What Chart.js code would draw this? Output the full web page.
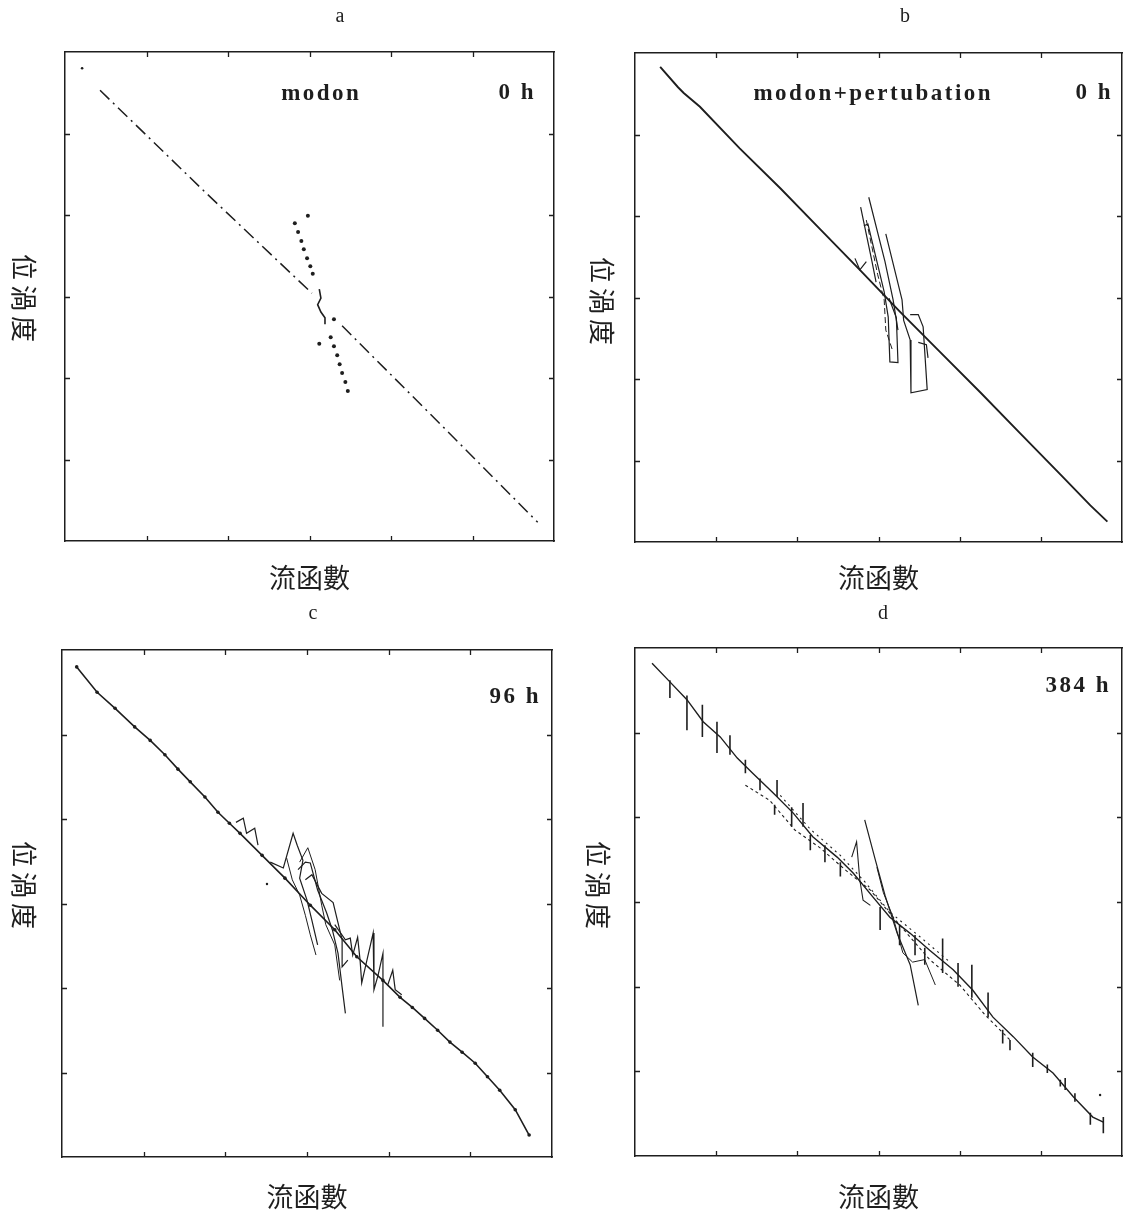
<!DOCTYPE html>
<html>
<head>
<meta charset="utf-8">
<script src="https://cdn.jsdelivr.net/npm/chart.js@4.4.1/dist/chart.umd.min.js"></script>
<style>
html,body{margin:0;padding:0;background:#fff;}
#wrap{position:relative;width:1137px;height:1218px;background:#fff;overflow:hidden;}
.panel{position:absolute;}
.panel canvas{display:block;}
</style>
</head>
<body>
<div id="wrap">
  <div class="panel" style="left:0;top:0;width:568px;height:600px"><canvas id="ca"></canvas></div>
  <div class="panel" style="left:568px;top:0;width:569px;height:600px"><canvas id="cb"></canvas></div>
  <div class="panel" style="left:0;top:600px;width:568px;height:618px"><canvas id="cc"></canvas></div>
  <div class="panel" style="left:568px;top:600px;width:569px;height:618px"><canvas id="cd"></canvas></div>
</div>
<script>
// ---------- axis / text content ----------
const AXIS_MIN = -3, AXIS_MAX = 3;
const tickValues = [-2, -1, 0, 1, 2];
const xAxisTitle = '流函數';
const yAxisTitle = '位渦度';
const panelLetters = ['a', 'b', 'c', 'd'];
const notesA = ['modon', '0 h'];
const notesB = ['modon+pertubation', '0 h'];
const notesC = ['96 h'];
const notesD = ['384 h'];

// ---------- panel a : modon, 0 h ----------  [stream function, potential vorticity]
const aModon = [[-2.57,2.53],[-1.28,1.28],[0.03,0.04],null,[0.40,-0.36],[1.60,-1.56],[2.80,-2.77]];
const aWiggle = [[0.12,0.09],[0.14,-0.02],[0.10,-0.10],[0.14,-0.19],[0.19,-0.26],[0.19,-0.34]];
const aUpperBranch = [[-0.02,0.99],[-0.18,0.90],[-0.14,0.79],[-0.10,0.68],[-0.07,0.58],[-0.03,0.47],[0.01,0.37],[0.04,0.28]];
const aLowerBranch = [[0.30,-0.28],[0.12,-0.58],[0.26,-0.50],[0.30,-0.61],[0.34,-0.72],[0.37,-0.83],[0.40,-0.94],[0.44,-1.05],[0.47,-1.16]];
const aCornerDot = [[-2.79,2.80]];

// ---------- panel b : modon + perturbation, 0 h ----------
const bModon = [[-2.69,2.83],[-2.47,2.58],[-2.40,2.51],[-2.20,2.34],[-1.71,1.83],[-1.21,1.34],[-0.72,0.84],[-0.23,0.34],[0.26,-0.17],[0.76,-0.67],[1.25,-1.16],[1.74,-1.66],[2.24,-2.17],[2.61,-2.55],[2.82,-2.75]];
const bPert1 = [[-0.22,1.11],[-0.08,0.44],[-0.03,0.19]];
const bPert2 = [[-0.12,1.23],[0.08,0.44],[0.18,-0.03],[0.24,-0.40]];
const bPert3 = [[-0.18,0.88],[-0.13,0.90],[0.07,0.07],[0.12,-0.24],[0.14,-0.79],[0.24,-0.80],[0.22,-0.25],[0.13,-0.01]];
const bPert4 = [[0.09,0.78],[0.29,-0.03],[0.31,-0.28],[0.39,-0.52],[0.40,-1.17],[0.60,-1.13],[0.55,-0.36],[0.49,-0.21],[0.39,-0.21]];
const bPert5 = [[0.49,-0.55],[0.59,-0.58],[0.61,-0.74]];
const bPert6 = [[-0.29,0.48],[-0.23,0.34],[-0.15,0.44]];
const bPert7 = [[-0.15,0.95],[-0.01,0.28],[0.07,-0.03],[0.09,-0.40],[0.17,-0.64]];

// ---------- panel c : 96 h ----------
const cMain = [[-2.82,2.80],[-2.57,2.50],[-2.35,2.31],[-2.11,2.09],[-1.92,1.93],[-1.74,1.76],[-1.58,1.59],[-1.43,1.44],[-1.25,1.26],[-1.09,1.08],[-0.95,0.95],[-0.82,0.83],[-0.55,0.57],[-0.27,0.30],[0.04,-0.02],[0.34,-0.31],[0.61,-0.63],[0.93,-0.91],[1.14,-1.11],[1.29,-1.23],[1.44,-1.36],[1.60,-1.50],[1.75,-1.64],[1.90,-1.76],[2.06,-1.89],[2.21,-2.05],[2.36,-2.21],[2.55,-2.44],[2.72,-2.74]];
const cPert1 = [[-0.45,0.49],[-0.29,0.42],[-0.17,0.83],[-0.12,0.69],[-0.05,0.51],[-0.09,0.30],[0.00,0.04],[0.06,-0.20],[0.13,-0.49]];
const cPert2 = [[-0.11,0.40],[-0.02,0.49],[0.04,0.48],[0.13,0.16],[0.24,-0.11],[0.31,-0.31],[0.38,-0.59],[0.43,-0.99],[0.47,-1.30]];
const cPert3 = [[-0.02,0.28],[0.06,0.34],[0.18,0.12],[0.32,0.01],[0.38,-0.23],[0.43,-0.43],[0.43,-0.75],[0.50,-0.67]];
const cPert4 = [[0.34,-0.25],[0.47,-0.43],[0.53,-0.41],[0.56,-0.61],[0.62,-0.40],[0.65,-0.67],[0.67,-0.94],[0.72,-0.73],[0.81,-0.35],[0.82,-1.02],[0.87,-0.85],[0.93,-0.59],[0.93,-1.46]];
const cPert5 = [[0.99,-0.96],[1.05,-0.79],[1.08,-1.02],[1.16,-1.08]];
const cPert6 = [[-0.87,0.96],[-0.78,1.01],[-0.74,0.83],[-0.64,0.89],[-0.60,0.69]];
const cPert7 = [[-0.25,0.54],[-0.18,0.28],[-0.09,0.10],[-0.02,-0.14],[0.04,-0.37],[0.11,-0.61]];
const cPert8 = [[-0.09,0.49],[0.01,0.66],[0.10,0.40],[0.18,-0.02],[0.23,-0.25],[0.34,-0.49],[0.40,-0.91]];
const cStray = [[-0.49,0.23]];

// ---------- panel d : 384 h ----------
const dMain = [[-2.79,2.82],[-2.57,2.60],[-2.36,2.39],[-2.16,2.13],[-1.95,1.95],[-1.74,1.70],[-1.55,1.52],[-1.30,1.29],[-1.05,1.05],[-0.81,0.77],[-0.51,0.53],[-0.31,0.34],[-0.07,0.06],[0.14,-0.18],[0.39,-0.37],[0.63,-0.57],[0.92,-0.80],[1.16,-1.04],[1.41,-1.36],[1.66,-1.59],[1.90,-1.83],[2.15,-2.02],[2.40,-2.30],[2.64,-2.54],[2.77,-2.60]];
const dSpikes = [[-2.57,2.62],[-2.57,2.41],null,[-2.36,2.44],[-2.36,2.03],null,[-2.17,2.33],[-2.17,1.95],null,[-1.99,2.13],[-1.99,1.76],null,[-1.83,1.97],[-1.83,1.74],null,[-1.64,1.68],[-1.64,1.52],null,[-1.46,1.46],[-1.46,1.32],null,[-1.28,1.15],[-1.28,1.03],null,[-1.25,1.44],[-1.25,1.24],null,[-1.07,1.12],[-1.07,0.89],null,[-0.93,1.17],[-0.93,0.89],null,[-0.84,0.79],[-0.84,0.61],null,[-0.66,0.67],[-0.66,0.47],null,[-0.47,0.47],[-0.47,0.30],null,[0.02,-0.06],[0.02,-0.33],null,[0.26,-0.27],[0.26,-0.51],null,[0.45,-0.39],[0.45,-0.63],null,[0.57,-0.54],[0.57,-0.74],null,[0.79,-0.43],[0.79,-0.84],null,[0.98,-0.72],[0.98,-1.00],null,[1.15,-0.74],[1.15,-1.13],null,[1.35,-1.07],[1.35,-1.36],null,[1.53,-1.51],[1.53,-1.67],null,[1.62,-1.63],[1.62,-1.75],null,[1.90,-1.78],[1.90,-1.95],null,[2.08,-1.92],[2.08,-2.02],null,[2.24,-2.10],[2.24,-2.18],null,[2.30,-2.08],[2.30,-2.22],null,[2.42,-2.26],[2.42,-2.36],null,[2.61,-2.49],[2.61,-2.63],null,[2.77,-2.54],[2.77,-2.73]];
const dSteep = [[-0.17,0.97],[-0.04,0.50],[0.08,0.08],[0.23,-0.37],[0.39,-0.74],[0.49,-1.22]];
const dSteep2 = [[-0.33,0.53],[-0.27,0.71],[-0.23,0.26],[-0.19,0.02],[-0.10,-0.04]];
const dTrace = [[-0.02,0.41],[0.06,0.11],[0.18,-0.18],[0.30,-0.60],[0.42,-0.71],[0.57,-0.68],[0.70,-0.98]];
const dDashed = [[-1.64,1.38],[-1.34,1.20],[-1.03,0.85],[-0.72,0.64],[-0.41,0.38],[-0.10,0.14],[0.26,-0.27],[0.63,-0.68],[1.00,-0.98],[1.31,-1.33],[1.62,-1.63]];
const dDashed2 = [[-1.21,1.26],[-0.84,0.86],[-0.47,0.55],[-0.17,0.24],[0.14,-0.12],[0.51,-0.41],[0.88,-0.71]];
const dStray = [[2.73,-2.28]];

// ---------- helpers ----------
const INK = '#1e1e1e';
const SERIF = "'Liberation Serif', 'DejaVu Serif', serif";
const CJK = "'Noto Sans CJK TC', 'Noto Sans CJK SC', sans-serif";

function pts(arr) {
  return arr.map(p => p === null ? {x: null, y: null} : {x: p[0], y: p[1]});
}
function line(data, extra) {
  return Object.assign({
    data: pts(data), showLine: true, borderColor: INK, backgroundColor: INK,
    borderWidth: 1.2, pointRadius: 0, pointHoverRadius: 0, spanGaps: false,
    xAxisID: 'x', yAxisID: 'y'
  }, extra || {});
}
function dots(data, r) {
  return {
    data: pts(data), showLine: false, pointRadius: r, pointHoverRadius: r,
    pointBackgroundColor: INK, pointBorderWidth: 0, borderColor: INK,
    xAxisID: 'x', yAxisID: 'y'
  };
}

const frameTicks = {
  id: 'frameTicks',
  afterDraw(chart) {
    const {ctx, chartArea: ca, scales} = chart;
    const len = 5;
    ctx.save();
    ctx.strokeStyle = INK;
    ctx.lineWidth = 1.3;
    ctx.beginPath();
    tickValues.forEach(v => {
      const px = Math.round(scales.x.getPixelForValue(v)) + 0.5;
      ctx.moveTo(px, ca.bottom); ctx.lineTo(px, ca.bottom - len);
      ctx.moveTo(px, ca.top); ctx.lineTo(px, ca.top + len);
      const py = Math.round(scales.y.getPixelForValue(v)) + 0.5;
      ctx.moveTo(ca.left, py); ctx.lineTo(ca.left + len, py);
      ctx.moveTo(ca.right, py); ctx.lineTo(ca.right - len, py);
    });
    ctx.stroke();
    ctx.restore();
  }
};

const panelText = {
  id: 'panelText',
  afterDraw(chart, args, opts) {
    const ctx = chart.ctx;
    (opts.items || []).forEach(it => {
      ctx.save();
      ctx.font = it.font;
      ctx.fillStyle = INK;
      ctx.textAlign = 'center';
      ctx.textBaseline = 'middle';
      const sp = it.spacing || 0;
      if ('letterSpacing' in ctx) ctx.letterSpacing = sp + 'px';
      ctx.translate(it.x, it.y);
      if (it.rot) ctx.rotate(it.rot);
      ctx.fillText(it.text, ('letterSpacing' in ctx) ? sp / 2 : 0, 0);
      ctx.restore();
    });
  }
};

function hiddenAxis(position, axis) {
  return {
    type: 'linear', position: position, axis: axis, min: AXIS_MIN, max: AXIS_MAX,
    ticks: {display: false}, grid: {display: false, drawTicks: false, tickLength: 0},
    border: {display: true, color: INK, width: 1.5}
  };
}

function makeChart(id, datasets, L, items) {
  const xScale = hiddenAxis('bottom', 'x');
  xScale.title = {
    display: true, text: xAxisTitle, color: INK,
    font: {family: CJK, size: 27, lineHeight: 1.2},
    padding: {top: L.tTop, bottom: L.tBottom}
  };
  return new Chart(document.getElementById(id), {
    type: 'scatter',
    data: {datasets: datasets},
    options: {
      responsive: true, maintainAspectRatio: false, animation: false, events: [],
      layout: {padding: {top: L.top, left: L.left, right: L.right, bottom: 0}},
      scales: {
        x: xScale,
        x2: hiddenAxis('top', 'x'),
        y: hiddenAxis('left', 'y'),
        y2: hiddenAxis('right', 'y')
      },
      plugins: {
        legend: {display: false},
        tooltip: {enabled: false},
        title: {display: false},
        panelText: {items: items}
      }
    },
    plugins: [frameTicks, panelText]
  });
}

const noteFont = "bold 23px " + SERIF;
const letterFont = "20px " + SERIF;
const yFont = "26px " + CJK;

// panel a
makeChart('ca', [
  line(aModon, {borderDash: [13, 5, 2, 5], borderWidth: 1.5}),
  line(aWiggle, {borderWidth: 1.6}),
  dots(aUpperBranch, 2),
  dots(aLowerBranch, 2),
  dots(aCornerDot, 1.3)
], {top: 52, left: 65, right: 14, tTop: 20.8, tBottom: 5.8}, [
  {text: panelLetters[0], x: 340, y: 17, font: letterFont},
  {text: notesA[0], x: 320, y: 94, font: noteFont, spacing: 2.5},
  {text: notesA[1], x: 516, y: 93, font: noteFont, spacing: 2.5},
  {text: yAxisTitle, x: 24, y: 298, font: yFont, spacing: 5, rot: Math.PI / 2}
]);

// panel b
makeChart('cb', [
  line(bModon, {borderWidth: 1.9}),
  line(bPert1), line(bPert2), line(bPert3), line(bPert4), line(bPert5), line(bPert6),
  line(bPert7, {borderWidth: 1.0, borderDash: [6, 3]})
], {top: 53, left: 67, right: 15, tTop: 19.8, tBottom: 5.8}, [
  {text: panelLetters[1], x: 337, y: 17, font: letterFont},
  {text: notesB[0], x: 304, y: 94, font: noteFont, spacing: 2.5},
  {text: notesB[1], x: 525, y: 93, font: noteFont, spacing: 2.5},
  {text: yAxisTitle, x: 34, y: 301, font: yFont, spacing: 5, rot: Math.PI / 2}
]);

// panel c
makeChart('cc', [
  line(cMain, {borderWidth: 1.6, pointRadius: 1.8, pointBorderWidth: 0, pointBackgroundColor: INK}),
  line(cPert1), line(cPert2), line(cPert3), line(cPert4), line(cPert5), line(cPert6),
  line(cPert7, {borderWidth: 1.0}), line(cPert8, {borderWidth: 1.0}),
  dots(cStray, 1.2)
], {top: 50, left: 62, right: 16, tTop: 23.8, tBottom: 4.8}, [
  {text: panelLetters[2], x: 313, y: 14, font: letterFont},
  {text: notesC[0], x: 514, y: 97, font: noteFont, spacing: 2.5},
  {text: yAxisTitle, x: 24, y: 285, font: yFont, spacing: 5, rot: Math.PI / 2}
]);

// panel d
makeChart('cd', [
  line(dMain, {borderWidth: 1.4}),
  line(dSpikes, {borderWidth: 1.6}),
  line(dSteep, {borderWidth: 1.2}),
  line(dSteep2, {borderWidth: 1.1}),
  line(dTrace, {borderWidth: 1.0}),
  line(dDashed, {borderWidth: 1.1, borderDash: [3, 3]}),
  line(dDashed2, {borderWidth: 1.1, borderDash: [2, 4]}),
  dots(dStray, 1.2)
], {top: 48, left: 67, right: 15, tTop: 24.8, tBottom: 4.8}, [
  {text: panelLetters[3], x: 315, y: 14, font: letterFont},
  {text: notesD[0], x: 509, y: 86, font: noteFont, spacing: 2.5},
  {text: yAxisTitle, x: 30, y: 285, font: yFont, spacing: 5, rot: Math.PI / 2}
]);
</script>
</body>
</html>
